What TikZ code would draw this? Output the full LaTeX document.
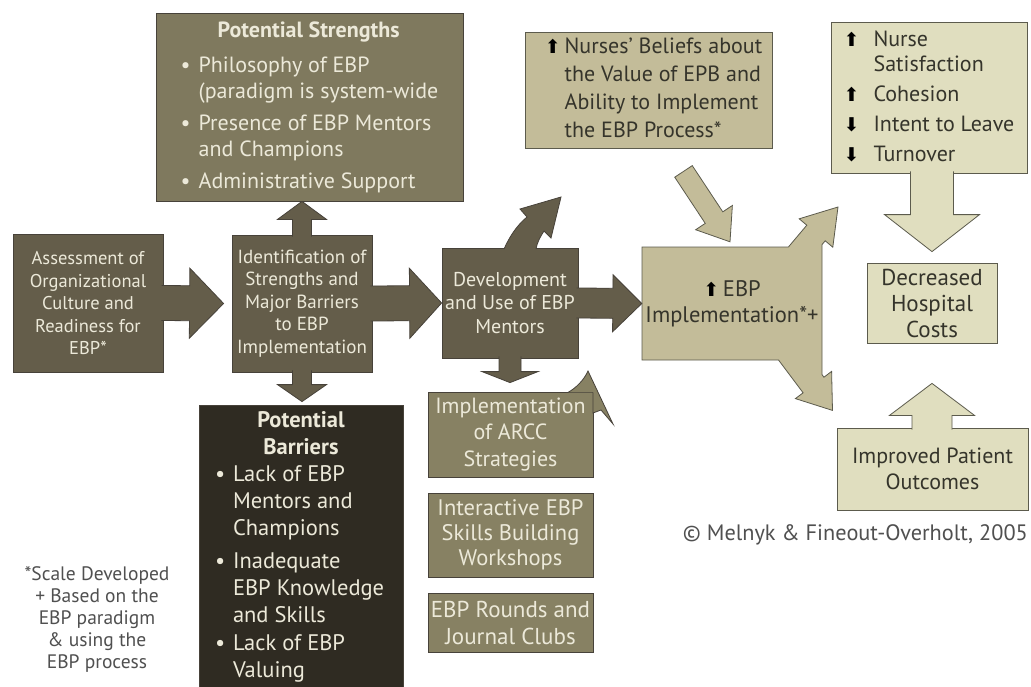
\documentclass[tikz,border=0pt]{standalone}
\usepackage{fontspec}
\setmainfont{PT Sans}
\newfontfamily\glyphfont{DejaVu Sans}
\usetikzlibrary{calc}

\definecolor{olivedark}{HTML}{645D4A}
\definecolor{olivemid}{HTML}{7F795E}
\definecolor{olivearcc}{HTML}{878163}
\definecolor{barrierfill}{HTML}{2F2B22}
\definecolor{tanfill}{HTML}{C3BC99}
\definecolor{palefill}{HTML}{E0DEBF}
\definecolor{creamtext}{HTML}{ECE9D9}
\definecolor{inktext}{HTML}{35342B}
\definecolor{darkedge}{HTML}{47423A}
\definecolor{lightedge}{HTML}{5C5B4D}
\definecolor{notetext}{HTML}{505050}

\newcommand{\upmark}{{\glyphfont\fontsize{19}{19}\selectfont\color{black}⬆}}
\newcommand{\downmark}{{\glyphfont\fontsize{19}{19}\selectfont\color{black}⬇}}
\newcommand{\bitem}{\makebox[18pt][l]{\textbullet}}
\newcommand{\bcont}{\hspace*{18pt}}

\newcommand{\callarrow}[6][]{%
  \path ($(#2)!-2pt!(#3)$) coordinate (ca-b) ($(#3)!#6!(#2)$) coordinate (ca-h);
  \filldraw[#1] ($(ca-b)!#4!90:(#3)$) -- ($(ca-h)!#4!90:(#3)$) -- ($(ca-h)!#5!90:(#3)$) -- (#3)
    -- ($(ca-h)!#5!-90:(#3)$) -- ($(ca-h)!#4!-90:(#3)$) -- ($(ca-b)!#4!-90:(#3)$);
}
\newcommand{\fatarrow}[6][]{%
  \path ($(#3)!#6!(#2)$) coordinate (fa-h);
  \filldraw[#1] ($(#2)!#4!90:(#3)$) -- ($(fa-h)!#4!90:(#3)$) -- ($(fa-h)!#5!90:(#3)$) -- (#3)
    -- ($(fa-h)!#5!-90:(#3)$) -- ($(fa-h)!#4!-90:(#3)$) -- ($(#2)!#4!-90:(#3)$) -- cycle;
}

\begin{document}
\begin{tikzpicture}[x=1pt, y=-1pt, inner sep=0pt,
    darkbox/.style={draw=darkedge, fill=olivedark, text=creamtext, line width=0.8pt, align=center},
    midbox/.style={draw=darkedge, fill=olivemid, text=creamtext, line width=0.8pt},
    arccbox/.style={draw=darkedge, fill=olivearcc, text=creamtext, line width=0.8pt, align=center},
    barbox/.style={draw=darkedge, fill=barrierfill, text=creamtext, line width=0.8pt},
    tanbox/.style={draw=lightedge, fill=tanfill, text=inktext, line width=0.8pt},
    palebox/.style={draw=lightedge, fill=palefill, text=inktext, line width=0.8pt, align=center},
    darkarrow/.style={draw=darkedge, fill=olivedark, line width=0.8pt},
    arccarrow/.style={draw=darkedge, fill=olivearcc, line width=0.8pt},
    tanarrow/.style={draw=lightedge, fill=tanfill, line width=0.8pt},
    palearrow/.style={draw=lightedge, fill=palefill, line width=0.8pt},
    notestyle/.style={text=notetext}]
\fill[white] (0,0) rectangle (1031,686);
\useasboundingbox (0,0) rectangle (1031,686);

\filldraw[tanarrow] (642,247) -- (788.4,247) -- (806.8,225.2) -- (799.2,218.8) -- (838,207) -- (832.8,247.2)
  -- (825.2,240.8) -- (822,244.6) -- (822,374.6) -- (823.9,377.2) -- (831.6,371.4) -- (832.5,410.4)
  -- (795.4,398.6) -- (803.1,392.8) -- (778.5,360) -- (642,360) -- cycle;

\node[midbox, minimum width=307, minimum height=188, align=left, font=\fontsize{22}{26}\selectfont] (strengths) at (309.5,107)
  {\makebox[256pt]{\bfseries Potential Strengths}\\[9pt]\bitem Philosophy of EBP\\\bcont (paradigm is system-wide\\[6pt]\bitem Presence of EBP Mentors\\\bcont and Champions\\[6pt]\bitem Administrative Support};
\node[darkbox, minimum width=150, minimum height=138, font=\fontsize{18.5}{22.5}\selectfont] (assess) at (88,303)
  {Assessment of\\Organizational\\Culture and\\Readiness for\\EBP*};
\node[darkbox, minimum width=140, minimum height=137, font=\fontsize{19}{22.5}\selectfont] (ident) at (302,303.5)
  {Identification of\\Strengths and\\Major Barriers\\to EBP\\Implementation};
\node[darkbox, minimum width=136, minimum height=110, font=\fontsize{20}{23.5}\selectfont] (devel) at (510,303)
  {Development\\and Use of EBP\\Mentors};
\node[text=inktext, align=center, minimum width=180, minimum height=113, font=\fontsize{22.5}{26}\selectfont] (impl) at (732,303.5)
  {\upmark\,EBP\\Implementation*+};
\node[tanbox, minimum width=247, minimum height=116, font=\fontsize{22}{28}\selectfont] (nurses) at (648.5,90)
  {\hspace*{10pt}\begin{tabular}{@{}c@{\hspace{4pt}}l@{}}\upmark & Nurses’ Beliefs about\\ & the Value of EPB and\\ & Ability to Implement\\ & the EBP Process*\end{tabular}};
\node[tanbox, fill=palefill, minimum width=196, minimum height=151, font=\fontsize{22}{30}\selectfont] (outcomes) at (929,97.5)
  {\begin{tabular}{@{}c@{\hspace{14pt}}l@{}}\upmark & Nurse\\[-5pt] & Satisfaction\\ \upmark & Cohesion\\ \downmark & Intent to Leave\\ \downmark & Turnover\end{tabular}};
\node[palebox, minimum width=130, minimum height=80, font=\fontsize{23}{26}\selectfont] (decreased) at (932,303)
  {Decreased\\Hospital\\Costs};
\node[palebox, minimum width=191, minimum height=82, font=\fontsize{22}{26}\selectfont] (improved) at (932.5,469)
  {Improved Patient\\Outcomes};
\node[barbox, minimum width=204, minimum height=284, align=left, font=\fontsize{22.5}{27}\selectfont] (barriers) at (301,547)
  {\makebox[172pt]{\bfseries Potential}\\\makebox[172pt]{\bfseries Barriers}\\\bitem Lack of EBP\\\bcont Mentors and\\\bcont Champions\\[6pt]\bitem Inadequate\\\bcont EBP Knowledge\\\bcont and Skills\\[1pt]\bitem Lack of EBP\\\bcont Valuing};
\node[arccbox, minimum width=165, minimum height=85, font=\fontsize{22}{26.5}\selectfont] (arcc) at (510.5,434.5)
  {Implementation\\of ARCC\\Strategies};
\node[arccbox, minimum width=165, minimum height=84, font=\fontsize{22.5}{25}\selectfont] (inter) at (510.5,535)
  {Interactive EBP\\Skills Building\\Workshops};
\node[arccbox, minimum width=165, minimum height=59, font=\fontsize{23}{27}\selectfont] (rounds) at (510.5,622.5)
  {EBP Rounds and\\Journal Clubs};
\node[notestyle, align=center, font=\fontsize{19.5}{22}\selectfont] (note) at (97,619)
  {*Scale Developed\\+ Based on the\\EBP paradigm\\\& using the\\EBP process};
\node[notestyle, anchor=east, font=\fontsize{22.3}{25}\selectfont] (credit) at (1028,535)
  {© Melnyk \& Fineout-Overholt, 2005};

\coordinate (t1) at ($(ident.west)+(-8,0)$);
\coordinate (t3) at (ident.north |- strengths.south);
\coordinate (t4) at ($(ident.south |- barriers.north)+(0,-3)$);
\coordinate (t6) at ($(devel.south |- arcc.north)+(0,-9)$);
\coordinate (s7) at (decreased.north |- outcomes.south);
\coordinate (t7) at ($(decreased.north)+(0,-11)$);
\coordinate (s8) at (decreased.south |- improved.north);
\coordinate (t8) at ($(decreased.south)+(0,40)$);
\coordinate (s9) at ($(nurses.south)+(35,23)$);
\coordinate (t9) at ($(impl.north)+(-2,-5)$);
\coordinate (devtip) at (561,197);
\coordinate (arcctip) at (588,371);

\callarrow[darkarrow]{assess.east}{t1}{17.5pt}{35pt}{34pt}
\callarrow[darkarrow]{ident.east}{devel.west}{17.5pt}{35pt}{32pt}
\callarrow[darkarrow]{ident.north}{t3}{9.5pt}{24.5pt}{18pt}
\callarrow[darkarrow]{ident.south}{t4}{9.5pt}{24.5pt}{17pt}
\callarrow[darkarrow]{devel.east}{impl.west}{15pt}{28.5pt}{29pt}
\callarrow[darkarrow]{devel.south}{t6}{11pt}{28pt}{11pt}
\callarrow[palearrow]{s7}{t7}{21.5pt}{47.5pt}{37pt}
\callarrow[palearrow]{s8}{t8}{20pt}{42.5pt}{32pt}
\fatarrow[tanarrow]{s9}{t9}{10.5pt}{22pt}{29pt}

\filldraw[darkarrow] (504,249) .. controls (509,238) and (516,226) .. (527,217) -- (520,209) -- (devtip)
  -- (551,238) -- (544,231) .. controls (540,237) and (537,243) .. (536,249);
\filldraw[arccarrow] (568,392.4) .. controls (576,388) and (584,380) .. (arcctip) -- (613,424) -- (601,410)
  -- (593,413) -- (593,392.4);
\end{tikzpicture}
\end{document}
